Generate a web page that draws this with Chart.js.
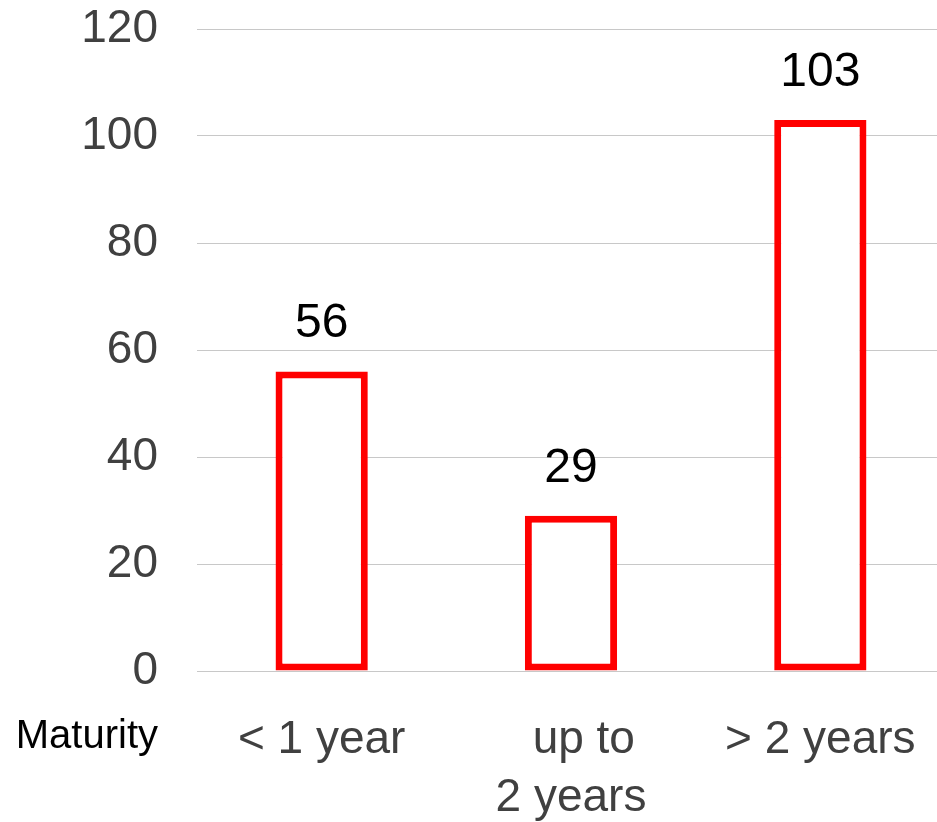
<!DOCTYPE html>
<html>
<head>
<meta charset="utf-8">
<script src="https://cdn.jsdelivr.net/npm/chart.js@4/dist/chart.umd.min.js"></script>
<style>
  html, body { margin: 0; padding: 0; background: #fff; overflow: hidden; }
  #wrap { width: 937px; height: 822px; overflow: hidden; }
  canvas { display: block; }
</style>
</head>
<body>
<div id="wrap"><canvas id="chart" width="945" height="822"></canvas></div>
<script>
// Maturity buckets and amounts
const categories = [["< 1 year"], ["  up to", "2 years"], ["> 2 years"]];
const amounts = [56, 29, 103];
const yTicks = { min: 0, max: 120, step: 20 };
const axisCaption = "Maturity";

const FONT = "'Liberation Sans', Arial, sans-serif";

// Value labels above each bar, and the caption left of the category labels
const annotate = {
  id: 'annotate',
  afterDatasetsDraw(chart) {
    const ctx = chart.ctx;
    const meta = chart.getDatasetMeta(0);
    ctx.save();
    ctx.font = `48px ${FONT}`;
    ctx.fillStyle = '#000';
    ctx.textAlign = 'center';
    ctx.textBaseline = 'alphabetic';
    meta.data.forEach((bar, i) => {
      ctx.fillText(String(amounts[i]), bar.x, bar.y - 34);
    });
    const xs = chart.scales.x;
    ctx.font = `40px ${FONT}`;
    ctx.textAlign = 'right';
    ctx.fillText(axisCaption, 158, xs.top + 77);
    ctx.restore();
  }
};

new Chart(document.getElementById('chart'), {
  type: 'bar',
  data: {
    labels: categories,
    datasets: [{
      data: amounts,
      backgroundColor: '#ffffff',
      borderColor: '#ff0000',
      borderWidth: 7,
      borderSkipped: false,
      categoryPercentage: 1,
      barPercentage: 0.37
    }]
  },
  options: {
    responsive: false,
    animation: false,
    layout: { padding: { top: 29, right: 0, bottom: 0, left: 0 } },
    plugins: { legend: { display: false }, tooltip: { enabled: false } },
    scales: {
      x: {
        grid: { display: false, drawTicks: false },
        border: { display: false },
        ticks: {
          color: '#404040',
          font: { family: FONT, size: 46, lineHeight: 1.26 },
          padding: 40,
          maxRotation: 0,
          autoSkip: false
        },
        afterFit(scale) {
          scale.height = 151;
          scale.paddingLeft = 0;
          scale.paddingRight = 0;
        }
      },
      y: {
        min: yTicks.min,
        max: yTicks.max,
        grid: { color: '#c8c8c8', lineWidth: 1, drawTicks: false },
        border: { display: false },
        ticks: {
          stepSize: yTicks.step,
          color: '#404040',
          font: { family: FONT, size: 46 },
          padding: 39
        },
        afterFit(scale) {
          scale.width = 197;
          scale.paddingTop = 0;
          scale.paddingBottom = 0;
        }
      }
    }
  },
  plugins: [annotate]
});
</script>
</body>
</html>
